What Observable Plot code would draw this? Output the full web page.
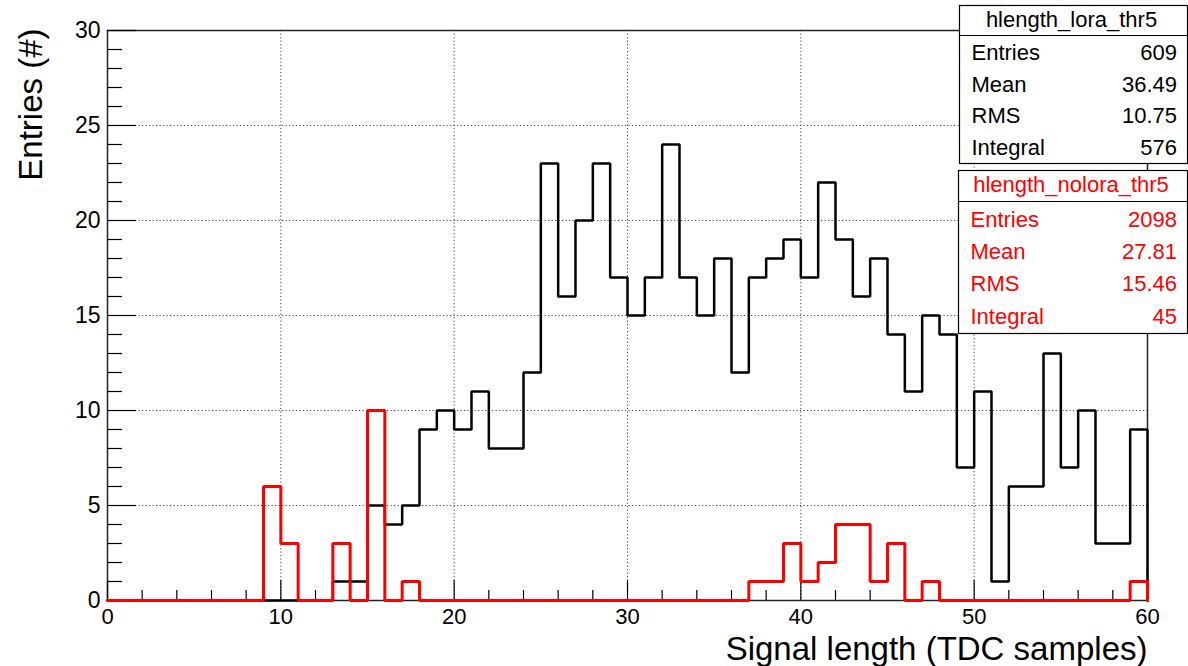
<!DOCTYPE html>
<html>
<head>
<meta charset="utf-8">
<script src="https://cdn.jsdelivr.net/npm/d3@7"></script>
<script src="https://cdn.jsdelivr.net/npm/@observablehq/plot@0.6"></script>
<style>
  html, body { margin: 0; padding: 0; background: #fff; }
  #chart { position: relative; width: 1188px; height: 666px; }
  svg { font-family: "Liberation Sans", Arial, Helvetica, sans-serif; }
</style>
</head>
<body>
<div id="chart"></div>
<script>
// ---- data ----
const xMin = 0, xMax = 60, binWidth = 1;
const loraCounts = [
  0,0,0,0,0,0,0,0,0,0,
  0,0,0,1,1,5,4,5,9,10,
  9,11,8,8,12,23,16,20,23,17,
  15,17,24,17,15,18,12,17,18,19,
  17,22,19,16,18,14,11,15,14,7,
  11,1,6,6,13,7,10,3,3,9
];
const noloraCounts = [
  0,0,0,0,0,0,0,0,0,6,
  3,0,0,3,0,10,0,1,0,0,
  0,0,0,0,0,0,0,0,0,0,
  0,0,0,0,0,0,0,1,1,3,
  1,2,4,4,1,3,0,1,0,0,
  0,0,0,0,0,0,0,0,0,1
];
const xMajorTicks = [0, 10, 20, 30, 40, 50, 60];
const xMinorTicks = [2,4,6,8,12,14,16,18,22,24,26,28,32,34,36,38,42,44,46,48,52,54,56,58];
const yMajorTicks = [0, 5, 10, 15, 20, 25, 30];
const yMinorTicks = [1,2,3,4,6,7,8,9,11,12,13,14,16,17,18,19,21,22,23,24,26,27,28,29];
const xGrid = [10, 20, 30, 40, 50];
const yGrid = [5, 10, 15, 20, 25];
const xTitle = "Signal length (TDC samples)";
const yTitle = "Entries (#)";
const statNames = ["hlength_lora_thr5", "hlength_nolora_thr5"];
const statLabels = ["Entries", "Mean", "RMS", "Integral"];
const loraStats = ["609", "36.49", "10.75", "576"];
const noloraStats = ["2098", "27.81", "15.46", "45"];

// ---- build step outlines ----
function outline(counts) {
  const lows = d3.range(xMin, xMax, binWidth);
  const pts = lows.map((x, i) => ({x, y: counts[i]}));
  pts.push({x: xMax, y: counts[counts.length - 1]});
  pts.push({x: xMax, y: 0});
  return pts;
}
const loraLine = outline(loraCounts);
const noloraLine = outline(noloraCounts);

const W = 1188, H = 666, mL = 107, mR = 41, mT = 30, mB = 66;
const pw = W - mL - mR, ph = H - mT - mB;
const FONT = '"Liberation Sans", Arial, Helvetica, sans-serif';

const plot = Plot.plot({
  width: W, height: H,
  marginLeft: mL, marginRight: mR, marginTop: mT, marginBottom: mB,
  style: {fontFamily: FONT, background: "#fff", color: "#000"},
  x: {domain: [xMin, xMax]},
  y: {domain: [0, 30]},
  marks: [
    Plot.ruleX(xGrid, {stroke: "#444", strokeWidth: 1, strokeDasharray: "1.2,2.3"}),
    Plot.ruleY(yGrid, {stroke: "#444", strokeWidth: 1, strokeDasharray: "1.2,2.3"}),
    Plot.frame({stroke: "#222", strokeWidth: 1.5}),
    Plot.ruleX(xMajorTicks, {stroke: "#000", strokeWidth: 1.2, insetTop: ph - 20}),
    Plot.ruleX(xMinorTicks, {stroke: "#000", strokeWidth: 1.2, insetTop: ph - 10}),
    Plot.ruleY(yMajorTicks, {stroke: "#000", strokeWidth: 1.2, insetRight: pw - 29}),
    Plot.ruleY(yMinorTicks, {stroke: "#000", strokeWidth: 1.2, insetRight: pw - 15}),
    Plot.line(loraLine, {x: "x", y: "y", curve: "step-after", stroke: "#000", strokeWidth: 2.5, strokeLinejoin: "miter"}),
    Plot.line(noloraLine, {x: "x", y: "y", curve: "step-after", stroke: "#ff0000", strokeWidth: 3, strokeLinejoin: "miter"}),
    Plot.axisX({ticks: xMajorTicks, tickSize: 0, tickPadding: 8, fontSize: 22, label: null, tickFormat: d => String(d)}),
    Plot.axisY({ticks: yMajorTicks, tickSize: 0, tickPadding: 7, fontSize: 23, label: null, tickFormat: d => String(d)}),
    Plot.text([xTitle], {frameAnchor: "bottom-right", text: d => d, dy: 59, fontSize: 33, textAnchor: "end", lineAnchor: "bottom"}),
    Plot.text([yTitle], {frameAnchor: "top-left", text: d => d, dx: -66, dy: -2, rotate: -90, fontSize: 33, textAnchor: "end", lineAnchor: "bottom"})
  ]
});
document.getElementById("chart").appendChild(plot);

// ---- stat boxes ----
const svg = d3.select(plot);
function statBox(x0, y0, w, h, sepY, headBase, rowBases, name, values, color) {
  const g = svg.append("g").attr("font-family", FONT).attr("font-size", 22).attr("fill", color).attr("text-anchor", "start");
  g.append("rect").attr("x", x0).attr("y", y0).attr("width", w).attr("height", h).attr("fill", "#fff").attr("stroke", "#000").attr("stroke-width", 1.2);
  g.append("line").attr("x1", x0).attr("x2", x0 + w).attr("y1", sepY).attr("y2", sepY).attr("stroke", "#000").attr("stroke-width", 1.2);
  g.append("text").attr("x", x0 + w / 2 - 2).attr("y", headBase).attr("text-anchor", "middle").text(name);
  statLabels.forEach((lab, i) => {
    g.append("text").attr("x", x0 + 12).attr("y", rowBases[i]).attr("text-anchor", "start").text(lab);
    g.append("text").attr("x", 1177).attr("y", rowBases[i]).attr("text-anchor", "end").text(values[i]);
  });
}
statBox(959.5, 5.5, 228, 158, 35.5, 27, [60, 92, 123, 155], statNames[0], loraStats, "#000");
statBox(958.5, 170.5, 229, 163, 201.5, 192, [227, 259, 291, 324], statNames[1], noloraStats, "#ff0000");
</script>
</body>
</html>
